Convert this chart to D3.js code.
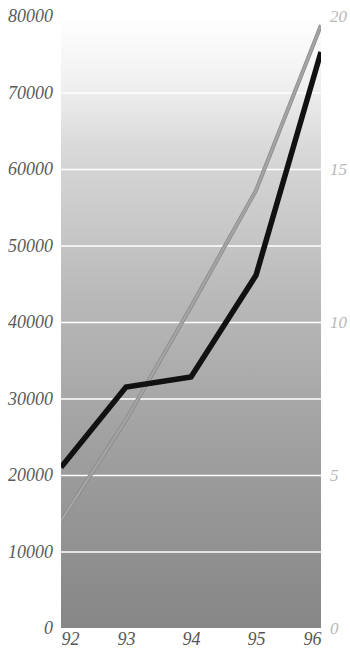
<!DOCTYPE html>
<html>
<head>
<meta charset="utf-8">
<script src="https://cdn.jsdelivr.net/npm/d3@7"></script>
<style>
  body { margin: 0; background: #fff; }
  svg text { font-family: "Liberation Serif", serif; font-style: italic; }
</style>
</head>
<body>
<div id="app"></div>
<script>
const years = ["92", "93", "94", "95", "96"];
const blackValues = [21000, 31500, 32800, 46100, 75300];   // left axis
const grayValues = [3.5, 6.8, 10.5, 14.3, 19.7];           // right axis
const leftTicks = [0, 10000, 20000, 30000, 40000, 50000, 60000, 70000, 80000];
const rightTicks = [0, 5, 10, 15, 20];

const margin = {top: 16, right: 29, bottom: 20, left: 61};
const width = 350 - margin.left - margin.right;
const height = 648 - margin.top - margin.bottom;

const svg = d3.select("#app")
    .append("svg")
        .attr("width", 350)
        .attr("height", 648)
    .append("g")
        .attr("transform", "translate(" + margin.left + "," + margin.top + ")");

const x = d3.scalePoint().domain(years).range([0, width]);
const yLeft = d3.scaleLinear().domain([0, 80000]).range([height, 0]);
const yRight = d3.scaleLinear().domain([0, 20]).range([height, 0]);

const defs = svg.append("defs");

// background gradient
const grad = defs.append("linearGradient")
    .attr("id", "bg").attr("x1", 0).attr("y1", 0).attr("x2", 0).attr("y2", 1);
[[0, "#ffffff"], [0.1, "#f2f2f2"], [0.22, "#d8d8d8"], [0.45, "#bababa"], [0.7, "#a0a0a0"], [1, "#868686"]]
    .forEach(s => grad.append("stop").attr("offset", s[0]).attr("stop-color", s[1]));

defs.append("clipPath").attr("id", "clip")
    .append("rect").attr("x", 0).attr("y", -10).attr("width", width).attr("height", height + 10);

svg.append("rect")
    .attr("width", width).attr("height", height)
    .attr("fill", "url(#bg)");

// white gridlines
svg.append("g")
    .call(d3.axisLeft(yLeft).tickValues(leftTicks.slice(1, -1)).tickSize(-width).tickFormat(""))
    .call(g => g.select(".domain").remove())
    .call(g => g.selectAll("line").attr("stroke", "#fff").attr("stroke-width", 1.5));

// left axis labels
svg.append("g")
    .call(d3.axisLeft(yLeft).tickValues(leftTicks).tickSize(0).tickPadding(8).tickFormat(d3.format("d")))
    .call(g => g.select(".domain").remove())
    .call(g => g.selectAll("text")
        .style("font-size", "18px").attr("fill", "#5a5a5a").attr("font-family", null));

// right axis labels
svg.append("g")
    .attr("transform", "translate(" + width + ",0)")
    .call(d3.axisRight(yRight).tickValues(rightTicks).tickSize(0).tickPadding(9))
    .call(g => g.select(".domain").remove())
    .call(g => g.selectAll("text")
        .style("font-size", "17px").attr("fill", "#b8b8b8").attr("font-family", null));

// bottom labels
svg.append("g")
    .attr("transform", "translate(0," + height + ")")
    .call(d3.axisBottom(x).tickSize(0).tickPadding(4))
    .call(g => g.select(".domain").remove())
    .call(g => g.selectAll("text")
        .style("font-size", "18px").attr("fill", "#555").attr("font-family", null)
        .attr("text-anchor", (d, i) => i === 0 ? "start" : (i === years.length - 1 ? "end" : "middle")));

const lines = svg.append("g").attr("clip-path", "url(#clip)");

// gray line (right axis): dark edge with lighter core
const grayLine = d3.line().x((d, i) => x(years[i])).y(d => yRight(d));
lines.append("path")
    .datum(grayValues)
    .attr("fill", "none")
    .attr("stroke", "#8a8a8a")
    .attr("stroke-width", 4)
    .attr("d", grayLine);
lines.append("path")
    .datum(grayValues)
    .attr("fill", "none")
    .attr("stroke", "#a4a4a4")
    .attr("stroke-width", 2.4)
    .attr("d", grayLine);

// black line (left axis)
lines.append("path")
    .datum(blackValues)
    .attr("fill", "none")
    .attr("stroke", "#111")
    .attr("stroke-width", 5.5)
    .attr("d", d3.line().x((d, i) => x(years[i])).y(d => yLeft(d)));
</script>
</body>
</html>
